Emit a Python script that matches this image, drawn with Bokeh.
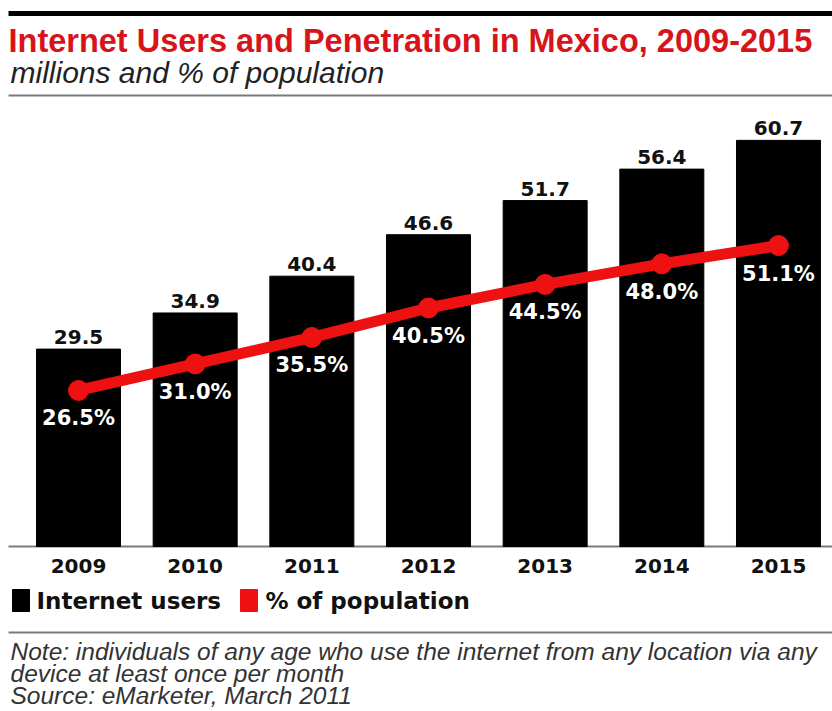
from bokeh.plotting import figure
from bokeh.models import Range1d, ColumnDataSource
from bokeh.core.properties import value
from bokeh.embed import file_html
from bokeh.resources import INLINE

years = ["2009", "2010", "2011", "2012", "2013", "2014", "2015"]
users = [29.5, 34.9, 40.4, 46.6, 51.7, 56.4, 60.7]
penetration = [26.5, 31.0, 35.5, 40.5, 44.5, 48.0, 51.1]

title = "Internet Users and Penetration in Mexico, 2009-2015"
subtitle = "millions and % of population"
notes = [
    "Note: individuals of any age who use the internet from any location via any",
    "device at least once per month",
    "Source: eMarketer, March 2011",
]

idx = list(range(len(years)))
src = ColumnDataSource(dict(
    x=idx, year=years, users=users, pct=penetration,
    ulab=[f"{v:.1f}" for v in users],
    plab=[f"{v:.1f}%" for v in penetration],
))

W, H = 832, 711
p = figure(width=W, height=H, output_backend="svg", toolbar_location=None,
           x_range=Range1d(-0.6686, 6.463), y_range=Range1d(-24.66, 81.6),
           x_axis_location=None, y_axis_location=None, min_border=0)
p.grid.visible = False
p.outline_line_color = None
p.background_fill_color = "white"
p.extra_y_ranges = {"pct": Range1d(-28.0, 92.7), "px": Range1d(H, 0)}
p.extra_x_ranges = {"px": Range1d(0, W)}

FONT = value("DejaVu Sans")
RED = "#ee1111"

# rules
p.segment(x0=[8], x1=[832], y0=[13], y1=[13], line_color="black", line_width=5,
          x_range_name="px", y_range_name="px")
p.segment(x0=[8, 8, 8], x1=[832, 832, 832], y0=[95, 546, 632], y1=[95, 546, 632],
          line_color="#7a7a7a", line_width=2, x_range_name="px", y_range_name="px")

# title block
p.text(x=[8], y=[40], text=[title], x_range_name="px", y_range_name="px",
       text_baseline="middle", text_font=value("Liberation Sans"), text_font_style="bold",
       text_font_size="32.5px", text_color="#d8141b")
p.text(x=[10], y=[72], text=[subtitle], x_range_name="px", y_range_name="px",
       text_baseline="middle", text_font=value("Liberation Sans"), text_font_style="italic",
       text_font_size="30px", text_color="#222222")

# bars
p.vbar(x="x", top="users", bottom=0, width=0.72, source=src, color="black")
p.text(x="x", y="users", text="ulab", source=src, text_align="center",
       text_baseline="bottom", y_offset=-5, text_font=FONT, text_font_style="bold",
       text_font_size="20px", text_color="#111111")

# line
p.line(x="x", y="pct", source=src, y_range_name="pct", line_color=RED, line_width=11)
p.scatter(x="x", y="pct", source=src, y_range_name="pct", size=20, color=RED)
p.text(x="x", y="pct", text="plab", source=src, y_range_name="pct", text_align="center",
       text_baseline="middle", y_offset=28, text_font=FONT, text_font_style="bold",
       text_font_size="21px", text_color="white")

# year labels
p.text(x="x", y=565, text="year", source=src, y_range_name="px",
       text_align="center", text_baseline="middle", text_font=FONT,
       text_font_style="bold", text_font_size="20px", text_color="#111111")

# legend
p.quad(left=[12], right=[29], top=[589], bottom=[611], color="black",
       x_range_name="px", y_range_name="px")
p.text(x=[36], y=[600], text=["Internet users"], x_range_name="px", y_range_name="px",
       text_baseline="middle", text_font=FONT, text_font_style="bold",
       text_font_size="23px", text_color="#111111")
p.quad(left=[240], right=[257], top=[589], bottom=[611], color=RED,
       x_range_name="px", y_range_name="px")
p.text(x=[265], y=[600], text=["% of population"], x_range_name="px", y_range_name="px",
       text_baseline="middle", text_font=FONT, text_font_style="bold",
       text_font_size="23px", text_color="#111111")

# notes
p.text(x=[10, 10, 10], y=[651, 673, 695], text=notes, x_range_name="px", y_range_name="px",
       text_baseline="middle", text_font=value("Liberation Sans"), text_font_style="italic",
       text_font_size="24.5px", text_color="#333333")

open("out.html", "w").write(file_html(p, INLINE))
